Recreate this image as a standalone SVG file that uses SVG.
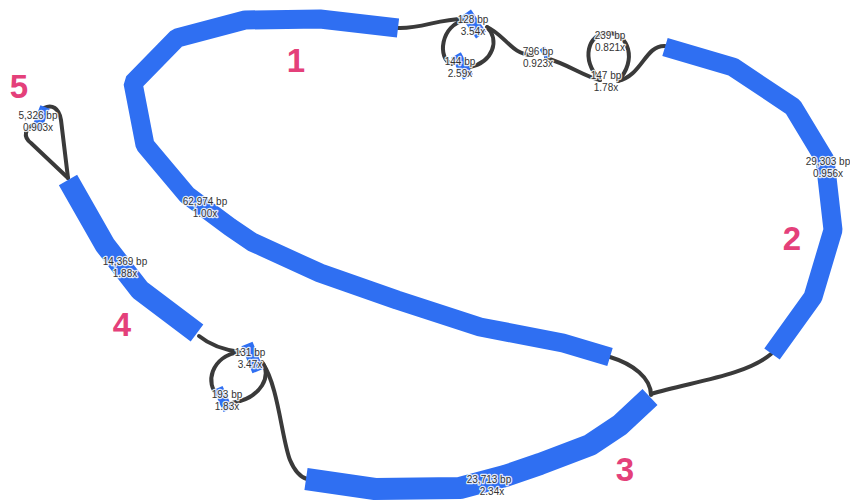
<svg xmlns="http://www.w3.org/2000/svg" width="850" height="501" viewBox="0 0 850 501">
<style>
.contig{fill:none;stroke:#2f6ff2;stroke-linejoin:bevel;stroke-linecap:butt}
.small{fill:none;stroke:#2f6ff2;stroke-linecap:butt}
.edge{fill:none;stroke:#3a3a3a;stroke-width:4;stroke-linecap:round}
.lbl{font-family:"Liberation Sans",Arial,sans-serif;font-size:10px;fill:#333;text-anchor:middle;stroke:#fff;stroke-width:2.5px;stroke-opacity:0.85;paint-order:stroke;stroke-linejoin:round}
.num{font-family:"Liberation Sans",Arial,sans-serif;font-size:33px;font-weight:bold;fill:#e4407a;text-anchor:middle}
</style>
<rect width="850" height="501" fill="#fff"/>
<g id="connectors">
<path class="edge" d="M610,357 C633,364 651,378 651,395"/>
<path class="edge" d="M651,394 C690,382 745,376 771,354"/>
<path class="edge" d="M398,28 C422,29 440,18 466,19"/>
<path class="edge" d="M466,20 C440,24 437,60 452,64"/>
<path class="edge" d="M470,67 C493,62 500,40 487,27"/>
<path class="edge" d="M487,27 C505,35 512,55 532,55"/>
<path class="edge" d="M546,58 C570,65 583,76 600,80"/>
<path class="edge" d="M600,80 C580,60 588,33 608,33 C628,33 638,60 618,81"/>
<path class="edge" d="M618,81 C642,76 645,45 665,46"/>
<path class="edge" d="M68,178 L61,120 C59,108 52,104 44,108"/>
<path class="edge" d="M36,124 C24,128 23,137 31,143 L68,178"/>
<path class="edge" d="M199,336 C210,345 225,350 240,352"/>
<path class="edge" d="M240,352 C210,356 205,385 218,395"/>
<path class="edge" d="M232,403 C262,398 272,375 262,362"/>
<path class="edge" d="M263,364 C278,385 282,440 290,460 C295,472 300,477 307,479"/>
</g>
<g id="node1">
<polyline class="contig" stroke-width="19" points="398,28 320,19 245,20 177,38 133,83 145,145 187,195 230,227 252,242 320,273 397,300 480,327 563,343 610,357"/>
<text class="lbl" x="205" y="205">62,974 bp</text>
<text class="lbl" x="205" y="217">1.00x</text>
<text class="num" x="296" y="72">1</text>
</g>
<g id="node2">
<polyline class="contig" stroke-width="19" points="665,47 733,67 793,107 825,160 833,230 813,297 772,354"/>
<text class="lbl" x="828" y="165">29,303 bp</text>
<text class="lbl" x="828" y="177">0.956x</text>
<text class="num" x="792" y="250">2</text>
</g>
<g id="node3">
<polyline class="contig" stroke-width="22" points="650,397 620,425 590,445 540,464 505,476 460,488 375,489 306,479"/>
<text class="lbl" x="489" y="483">23,713 bp</text>
<text class="lbl" x="492" y="495">2.34x</text>
<text class="num" x="625" y="481">3</text>
</g>
<g id="node4">
<polyline class="contig" stroke-width="21" points="68,180 105,245 140,290 197,333"/>
<text class="lbl" x="125" y="265">14,369 bp</text>
<text class="lbl" x="125" y="277">1.88x</text>
<text class="num" x="122" y="336">4</text>
</g>
<g id="node5">
<line class="small" x1="45" y1="107" x2="36" y2="130" stroke-width="10"/>
<text class="lbl" x="38" y="119">5,326 bp</text>
<text class="lbl" x="38" y="131">0.903x</text>
<text class="num" x="19" y="98">5</text>
</g>
<g id="node128">
<line class="small" x1="466" y1="13" x2="481" y2="35" stroke-width="12"/>
<text class="lbl" x="473" y="23">128 bp</text>
<text class="lbl" x="473" y="35">3.54x</text>
</g>
<g id="node144">
<line class="small" x1="456" y1="55" x2="468" y2="77" stroke-width="11"/>
<text class="lbl" x="460" y="65">144 bp</text>
<text class="lbl" x="460" y="77">2.59x</text>
</g>
<g id="node796">
<line class="small" x1="542" y1="48" x2="548" y2="57" stroke-width="6"/>
<text class="lbl" x="538" y="55">796 bp</text>
<text class="lbl" x="538" y="67">0.923x</text>
</g>
<g id="node239">
<text class="lbl" x="610" y="39">239 bp</text>
<text class="lbl" x="610" y="51">0.821x</text>
</g>
<g id="node147">
<text class="lbl" x="606" y="79">147 bp</text>
<text class="lbl" x="606" y="91">1.78x</text>
</g>
<g id="node131">
<line class="small" x1="247" y1="344" x2="258" y2="371" stroke-width="12"/>
<text class="lbl" x="250" y="356">131 bp</text>
<text class="lbl" x="250" y="368">3.47x</text>
</g>
<g id="node193">
<line class="small" x1="218" y1="388" x2="228" y2="410" stroke-width="10"/>
<text class="lbl" x="227" y="398">193 bp</text>
<text class="lbl" x="227" y="410">1.83x</text>
</g>
</svg>
